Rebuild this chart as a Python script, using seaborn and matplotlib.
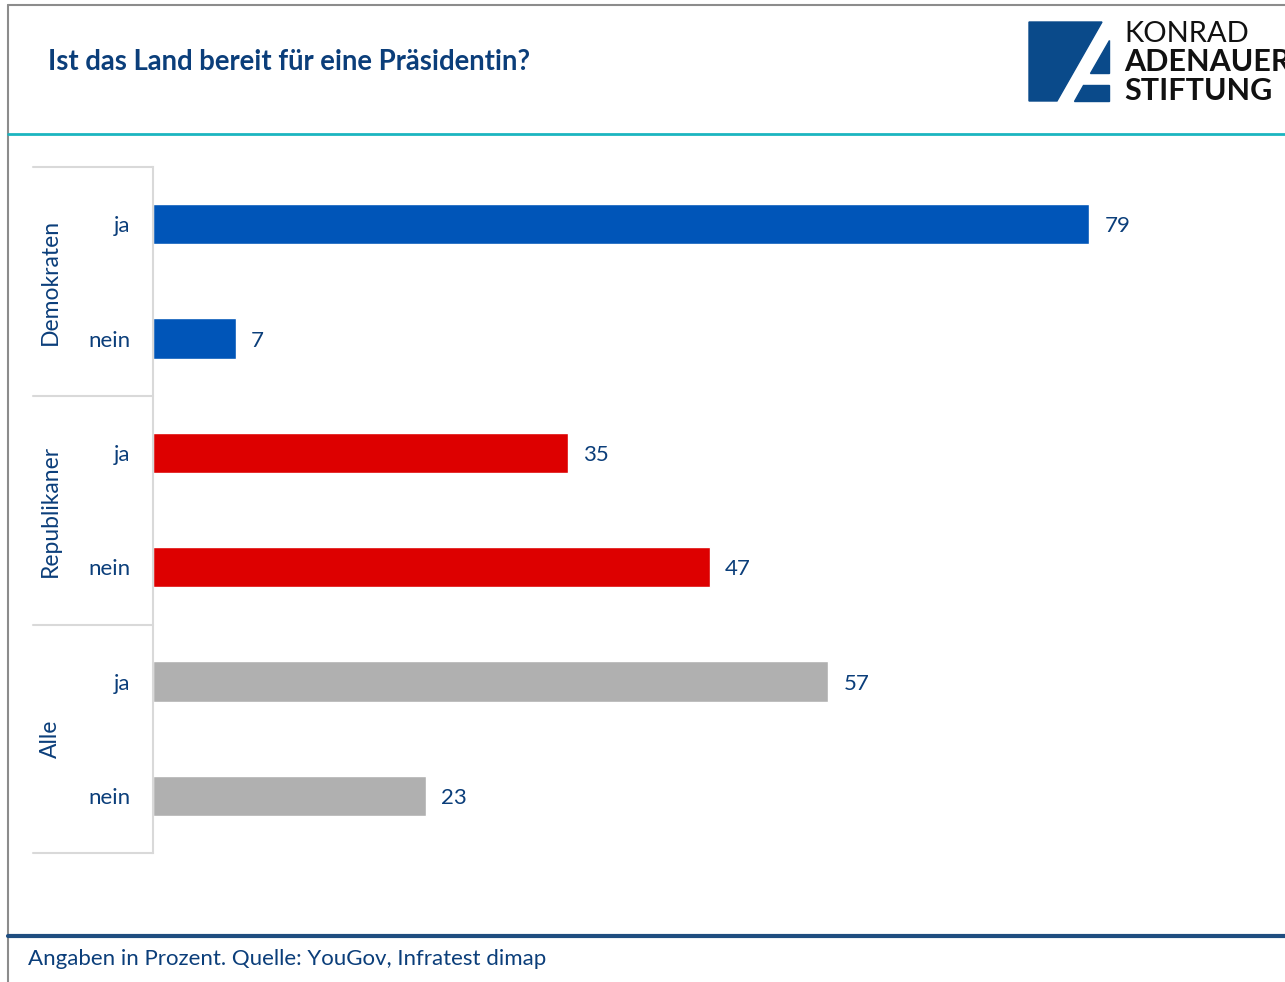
import matplotlib.pyplot as plt
import matplotlib as mat
import numpy as np
import pandas as pd
import seaborn as sns

# data
groups = ['Demokraten', 'Demokraten', 'Republikaner', 'Republikaner', 'Alle', 'Alle']
answers = ['ja', 'nein', 'ja', 'nein', 'ja', 'nein']
values = [79, 7, 35, 47, 57, 23]
group_names = ['Demokraten', 'Republikaner', 'Alle']
group_colors = ['#0055B8', '#DD0000', '#B0B0B0']

title = 'Ist das Land bereit für eine Präsidentin?'
footer = 'Angaben in Prozent. Quelle: YouGov, Infratest dimap'

sns.set_style('white')
plt.rcParams['font.family'] = ['Lato', 'DejaVu Sans']

W, H = 1285, 982
dark = '#0B3E7A'

df = pd.DataFrame({'group': groups, 'answer': answers, 'value': values})
df['row'] = [g + ' ' + a for g, a in zip(groups, answers)]

fig = plt.figure(figsize=(W / 100, H / 100), dpi=100)

def fx(x):
    return x / W

def fy(y):
    return 1 - y / H

ax = fig.add_axes([fx(153), fy(853), (1260 - 153) / W, (853 - 167) / H])
sns.barplot(data=df, y='row', x='value', hue='group', hue_order=group_names,
            palette=group_colors, dodge=False, width=0.35, legend=False,
            saturation=1, ax=ax)
ax.set_xlim(0, 1107 / 11.85)
ax.set_ylim(5.5, -0.5)
ax.set_yticks(range(len(answers)))
ax.set_yticklabels(answers, color=dark, fontsize=16)
ax.tick_params(axis='y', length=0, pad=16)
ax.set_xticks([])
ax.set_xlabel('')
ax.set_ylabel('')
for s in ['top', 'right', 'bottom']:
    ax.spines[s].set_visible(False)
ax.spines['left'].set_color('#D9D9D9')
ax.spines['left'].set_linewidth(1.5)

for cont in ax.containers:
    labs = ax.bar_label(cont, fmt='%.0f', padding=11, color=dark, fontsize=16)
    for t in labs:
        t.set_va('center_baseline')

# group separators and group labels
seps = [167, 396, 625, 853]
for y in seps:
    fig.add_artist(mat.lines.Line2D([fx(33), fx(153)], [fy(y), fy(y)], color='#D9D9D9', lw=1.5))
for i, g in enumerate(group_names):
    yc = (seps[i] + seps[i + 1]) / 2
    fig.text(fx(50), fy(yc), g, rotation=90, ha='center', va='center', color=dark, fontsize=16.5)

# frame lines
fig.add_artist(mat.lines.Line2D([fx(8), fx(8)], [0, fy(5)], color='#8C8C8C', lw=1.5))
fig.add_artist(mat.lines.Line2D([fx(8), 1], [fy(5), fy(5)], color='#8C8C8C', lw=1.5))
fig.add_artist(mat.lines.Line2D([fx(8), 1], [fy(134), fy(134)], color='#1BB5C0', lw=2))
fig.add_artist(mat.lines.Line2D([fx(8), 1], [fy(936), fy(936)], color='#1F4E80', lw=3))

# title and footer
fig.text(fx(48), fy(62), title, ha='left', va='center', color=dark, fontsize=19.8, fontweight='bold')
fig.text(fx(28), fy(959), footer, ha='left', va='center', color=dark, fontsize=16)

# logo
logo = '#0A4A8A'
fig.add_artist(mat.patches.Polygon([(fx(1029), fy(22)), (fx(1102), fy(22)), (fx(1057), fy(101)), (fx(1029), fy(101))],
                                   closed=True, color=logo, transform=fig.transFigure))
fig.add_artist(mat.patches.Polygon([(fx(1109), fy(40)), (fx(1109), fy(73)), (fx(1090), fy(73))],
                                   closed=True, color=logo, transform=fig.transFigure))
fig.add_artist(mat.patches.Polygon([(fx(1083), fy(85)), (fx(1109), fy(85)), (fx(1109), fy(101)), (fx(1074), fy(101))],
                                   closed=True, color=logo, transform=fig.transFigure))
fig.text(fx(1124), fy(34), 'KONRAD', ha='left', va='center', color='#111111', fontsize=21)
fig.text(fx(1124), fy(62), 'ADENAUER', ha='left', va='center', color='#111111', fontsize=22, fontweight='bold')
fig.text(fx(1124), fy(91), 'STIFTUNG', ha='left', va='center', color='#111111', fontsize=22, fontweight='bold')

fig.savefig('out.png', dpi=100)
